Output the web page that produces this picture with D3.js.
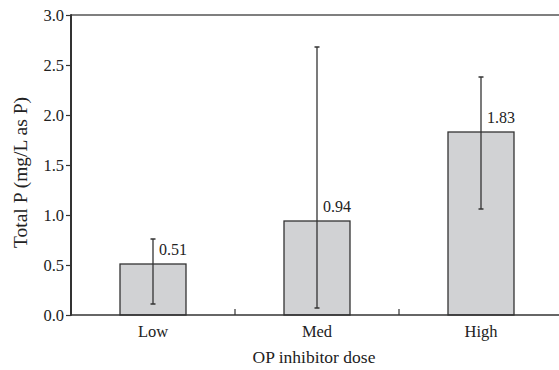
<!DOCTYPE html>
<html>
<head>
<meta charset="utf-8">
<script src="https://cdn.jsdelivr.net/npm/d3@7"></script>
<style>
  body { margin: 0; background: #fff; }
  text { font-family: "Liberation Serif", "Times New Roman", serif; fill: #222; }
</style>
</head>
<body>
<div id="plot"></div>
<script>
// Width and height
const w = 559;
const h = 370;
const margin = {top: 15, left: 71, bottom: 55};

// data
const doses = ["Low", "Med", "High"];
const means = [0.51, 0.94, 1.83];
const errLow = [0.11, 0.07, 1.06];
const errHigh = [0.76, 2.68, 2.38];
const yTicks = [0, 0.5, 1.0, 1.5, 2.0, 2.5, 3.0];

const svg = d3.select("div#plot")
  .append("svg")
    .attr("width", w)
    .attr("height", h);

const xScale = d3.scaleBand()
  .domain(doses)
  .range([margin.left, 563])
  .paddingInner(0)
  .paddingOuter(0);

const yScale = d3.scaleLinear()
  .domain([0, 3])
  .range([h - margin.bottom, margin.top]);

const barW = 66;
const ink = "#333";

// bars
svg.selectAll("rect.bar")
  .data(doses)
  .enter()
  .append("rect")
    .attr("class", "bar")
    .attr("x", d => xScale(d) + xScale.bandwidth() / 2 - barW / 2)
    .attr("y", (d, i) => yScale(means[i]))
    .attr("width", barW)
    .attr("height", (d, i) => yScale(0) - yScale(means[i]))
    .attr("fill", "#d1d2d4")
    .attr("stroke", ink)
    .attr("stroke-width", 1.3);

// error bars
const cx = d => xScale(d) + xScale.bandwidth() / 2;
svg.selectAll("line.err")
  .data(doses)
  .enter()
  .append("line")
    .attr("x1", cx).attr("x2", cx)
    .attr("y1", (d, i) => yScale(errLow[i]))
    .attr("y2", (d, i) => yScale(errHigh[i]))
    .attr("stroke", ink)
    .attr("stroke-width", 1.3);

[errLow, errHigh].forEach(arr => {
  svg.selectAll(null)
    .data(doses)
    .enter()
    .append("line")
      .attr("x1", d => cx(d) - 2.5).attr("x2", d => cx(d) + 2.5)
      .attr("y1", (d, i) => yScale(arr[i]))
      .attr("y2", (d, i) => yScale(arr[i]))
      .attr("stroke", ink)
      .attr("stroke-width", 1.5);
});

// value labels
svg.selectAll("text.val")
  .data(doses)
  .enter()
  .append("text")
    .attr("x", d => cx(d) + 6)
    .attr("y", (d, i) => yScale(means[i]) - 9)
    .style("font-size", "16px")
    .text((d, i) => means[i].toFixed(2));

// y axis
const yAxis = svg.append("g")
  .attr("transform", `translate(${margin.left},0)`)
  .call(d3.axisLeft(yScale).tickValues(yTicks).tickFormat(d3.format(".1f")).tickSize(5).tickPadding(2));
yAxis.select(".domain").remove();
yAxis.selectAll("line").attr("stroke", ink).attr("stroke-width", 1.2);
yAxis.selectAll("text")
  .style("font-family", "Liberation Serif, serif")
  .style("font-size", "16.5px")
  .attr("fill", "#222");

// x axis
const xAxis = svg.append("g")
  .attr("transform", `translate(0,${yScale(0)})`)
  .call(d3.axisBottom(xScale).tickSize(0).tickPadding(10));
xAxis.select(".domain").remove();
xAxis.selectAll("text")
  .style("font-family", "Liberation Serif, serif")
  .style("font-size", "16.5px")
  .attr("fill", "#222");

// inner ticks at band boundaries
svg.selectAll("line.xtick")
  .data(doses.slice(1))
  .enter()
  .append("line")
    .attr("x1", d => xScale(d)).attr("x2", d => xScale(d))
    .attr("y1", yScale(0)).attr("y2", yScale(0) - 6)
    .attr("stroke", ink)
    .attr("stroke-width", 1.2);

// frame lines
svg.append("line")
  .attr("x1", margin.left).attr("x2", w)
  .attr("y1", yScale(0)).attr("y2", yScale(0))
  .attr("stroke", ink).attr("stroke-width", 1.5);
svg.append("line")
  .attr("x1", margin.left).attr("x2", w)
  .attr("y1", yScale(3)).attr("y2", yScale(3))
  .attr("stroke", "#555").attr("stroke-width", 1.5);
svg.append("line")
  .attr("x1", margin.left).attr("x2", margin.left)
  .attr("y1", yScale(3) - 0.75).attr("y2", yScale(0) + 0.75)
  .attr("stroke", ink).attr("stroke-width", 2);

// axis labels
svg.append("text")
  .attr("x", 314)
  .attr("y", 363)
  .attr("text-anchor", "middle")
  .style("font-size", "17.5px")
  .text("OP inhibitor dose");

svg.append("text")
  .attr("transform", "rotate(-90)")
  .attr("x", -172.5)
  .attr("y", 27)
  .attr("text-anchor", "middle")
  .style("font-size", "19.5px")
  .text("Total P (mg/L as P)");
</script>
</body>
</html>
